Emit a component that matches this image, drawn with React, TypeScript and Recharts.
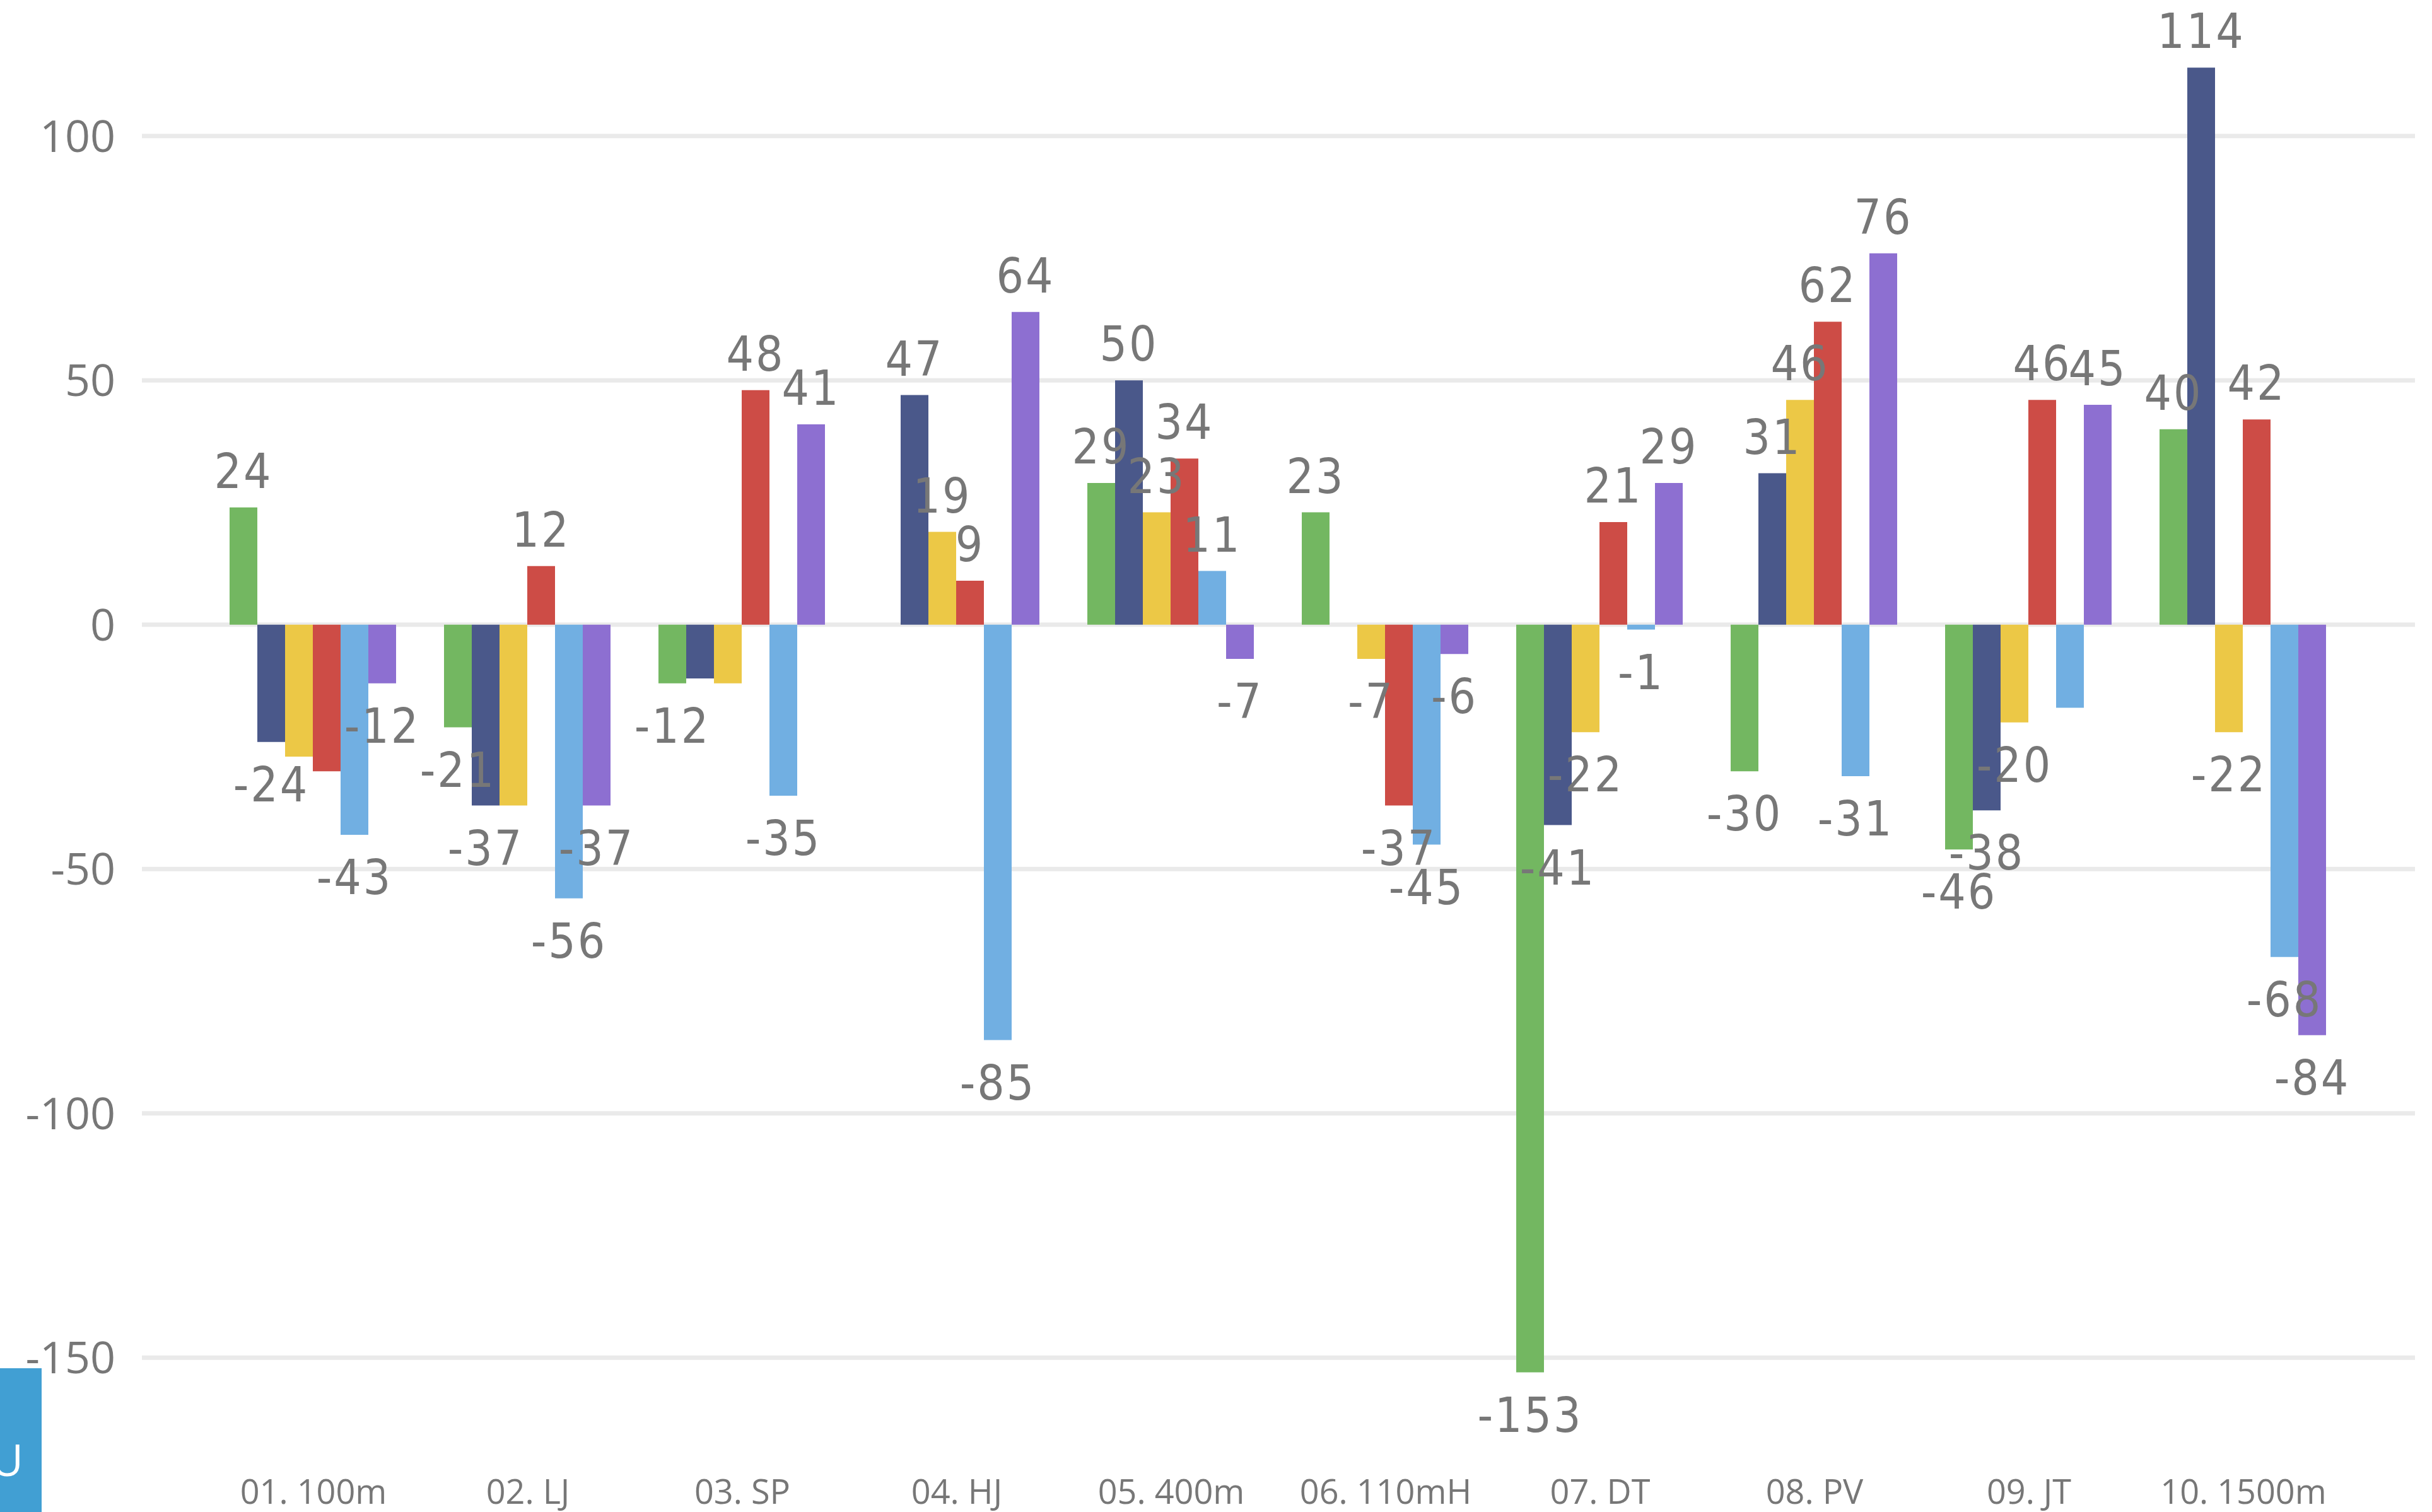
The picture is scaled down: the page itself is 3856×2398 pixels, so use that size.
import React from 'react';
import { BarChart, Bar, XAxis, YAxis, CartesianGrid, LabelList } from 'recharts';

const categories = ['01. 100m', '02. LJ', '03. SP', '04. HJ', '05. 400m', '06. 110mH', '07. DT', '08. PV', '09. JT', '10. 1500m'];
const seriesA = [24, -21, -12, 0, 29, 23, -153, -30, -46, 40];
const seriesB = [-24, -37, -11, 47, 50, 0, -41, 31, -38, 114];
const seriesC = [-27, -37, -12, 19, 23, -7, -22, 46, -20, -22];
const seriesD = [-30, 12, 48, 9, 34, -37, 21, 62, 46, 42];
const seriesE = [-43, -56, -35, -85, 11, -45, -1, -31, -17, -68];
const seriesF = [-12, -37, 41, 64, -7, -6, 29, 76, 45, -84];
const yTicks = [-150, -100, -50, 0, 50, 100];
// labels hidden in the reference because they collide with neighbours (series key -> category indexes)
const hiddenLabels: Record<string, number[]> = { A: [], B: [2], C: [0, 1, 2], D: [0], E: [8], F: [] };

const seriesKeys = ['A', 'B', 'C', 'D', 'E', 'F'];
const seriesValues = [seriesA, seriesB, seriesC, seriesD, seriesE, seriesF];
const colors = ['#73B761', '#4A588A', '#ECC846', '#CD4C46', '#71AFE2', '#8D6FD1'];

const data = categories.map((c, i) => {
  const row: Record<string, string | number> = { name: c };
  seriesKeys.forEach((k, s) => {
    row[k] = seriesValues[s][i];
  });
  return row;
});

const LABEL_FONT = "'Liberation Sans Narrow', 'DejaVu Sans Condensed', Roboto, sans-serif";
const AXIS_FONT = "'Open Sans', 'Noto Sans', sans-serif";

function makeLabel(key: string) {
  return (props: any) => {
    const vb = props.viewBox || props;
    const idx = props.index;
    if (hiddenLabels[key].includes(idx)) return null;
    const x = Number(vb.x);
    const y = Number(vb.y);
    const w = Number(vb.width);
    const h = Number(vb.height);
    const top = Math.min(y, y + h);
    const bottom = Math.max(y, y + h);
    const v = Number(props.value);
    const cx = x + w / 2;
    const ty = v >= 0 ? top - 31 : bottom + 39 + 55;
    return (
      <text
        key={`${key}-${idx}`}
        x={cx}
        y={ty}
        textAnchor="middle"
        fill="#777777"
        fontFamily={LABEL_FONT}
        fontSize={76}
        letterSpacing={3}
      >
        {String(v)}
      </text>
    );
  };
}

export default function App() {
  return (
    <div style={{ position: 'absolute', left: 0, top: 0, width: 3856, height: 2398, background: '#fff', overflow: 'hidden' }}>
      <BarChart
        width={3856}
        height={2398}
        data={data}
        margin={{ top: 22, right: 27, bottom: 0, left: 0 }}
        barCategoryGap={37}
        barGap={0}
      >
        <CartesianGrid vertical={false} horizontalValues={yTicks} stroke="#EAEAEA" strokeWidth={7} />
        <XAxis
          dataKey="name"
          height={51}
          axisLine={false}
          tickLine={false}
          tickSize={0}
          tickMargin={0}
          padding={{ left: 102, right: 102 }}
          interval={0}
          tick={{ fill: '#777777', fontSize: 54, fontFamily: AXIS_FONT }}
        />
        <YAxis
          width={225}
          domain={[-175, 125]}
          ticks={yTicks}
          axisLine={false}
          tickLine={false}
          tickSize={0}
          tickMargin={42}
          interval={0}
          tick={{ fill: '#777777', fontSize: 70, fontFamily: AXIS_FONT }}
        />
        {seriesKeys.map((k, s) => (
          <Bar key={k} dataKey={k} fill={colors[s]} isAnimationActive={false}>
            <LabelList dataKey={k} content={makeLabel(k)} />
          </Bar>
        ))}
      </BarChart>
      <div
        style={{
          position: 'absolute',
          left: 0,
          top: 2170,
          width: 66,
          height: 228,
          background: '#419FD3',
          overflow: 'hidden',
        }}
      >
        <span
          style={{
            position: 'absolute',
            left: -14,
            top: 96,
            color: '#fff',
            fontFamily: AXIS_FONT,
            fontSize: 70,
            lineHeight: '96px',
          }}
        >
          U
        </span>
      </div>
    </div>
  );
}
